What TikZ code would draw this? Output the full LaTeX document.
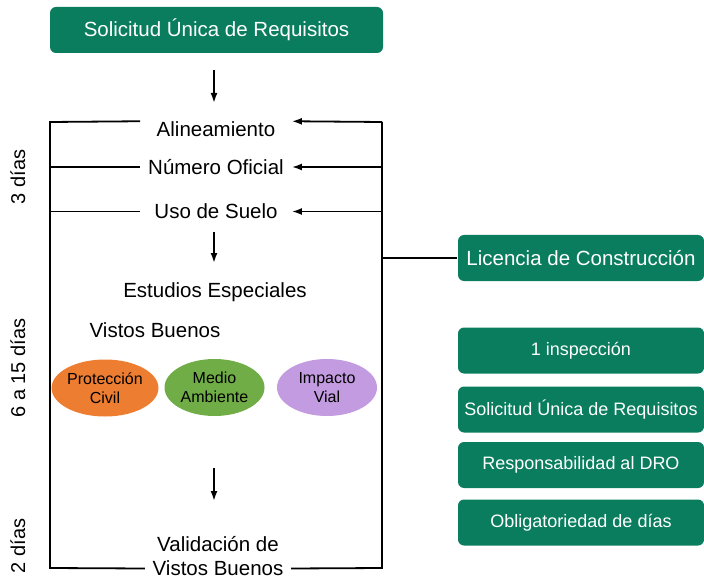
\documentclass[tikz,border=0pt]{standalone}
\usepackage{fontspec}
\setmainfont{Liberation Sans}
\usetikzlibrary{arrows.meta,shapes.geometric}
\definecolor{verde}{RGB}{10,125,94}
\definecolor{naranja}{RGB}{237,125,49}
\definecolor{verdeclaro}{RGB}{112,173,71}
\definecolor{lila}{RGB}{195,155,225}
\tikzset{
  caja/.style={fill=verde, rounded corners=6pt, text=white, inner sep=0pt,
    minimum width=246pt, minimum height=46pt, font=\fontsize{18}{21}\selectfont},
  texto/.style={inner sep=0pt, text height=14.7pt, text depth=0pt,
    font=\fontsize{20.5}{24}\selectfont},
  elipse/.style={ellipse, minimum width=100pt, minimum height=57pt, inner sep=0pt,
    align=center, font=\fontsize{16}{19.5}\selectfont},
  dias/.style={rotate=90, anchor=base, font=\fontsize{20}{24}\selectfont}
}
\begin{document}
\begin{tikzpicture}[>={Latex[length=10pt,width=7pt]}, x=1pt, y=-1pt, line width=1.8pt]
	\useasboundingbox (0,0) rectangle (704,580);
	%%% Solicitud
	\node[caja, minimum width=333pt, font=\fontsize{20.5}{24}\selectfont] (solic) at (216.5,30) {Solicitud Única de Requisitos};
	\coordinate (f1a) at (214,70);
	\coordinate (f1b) at (214,103);
	\draw[->] (f1a) -- (f1b);
	%%% Tramites 3 dias
	\node[texto, minimum width=150pt] (alin) at (216,129.5) {Alineamiento};
	\node[texto, minimum width=150pt] (numof) at (216,167) {Número Oficial};
	\node[texto, minimum width=150pt] (uso) at (216,211.5) {Uso de Suelo};
	\coordinate (f2a) at (214,232);
	\coordinate (f2b) at (214,263);
	\draw[->] (f2a) -- (f2b);
	%%% Estudios
	\node[texto] (estud) at (215,290.5) {Estudios Especiales};
	\node[texto] (vistos) at (155,330.5) {Vistos Buenos};
	\node[elipse, fill=naranja] (prot) at (105,388) {Protección\\Civil};
	\node[elipse, fill=verdeclaro] (medio) at (214.5,387.5) {Medio\\Ambiente};
	\node[elipse, fill=lila] (impacto) at (327,387.5) {Impacto\\Vial};
	\coordinate (f3a) at (214,468);
	\coordinate (f3b) at (214,501);
	\draw[->] (f3a) -- (f3b);
	%%% Validacion
	\node[texto] (vb1) at (218,544.5) {Validación de};
	\node[texto, inner xsep=7pt] (vb2) at (218,568.5) {Vistos Buenos};
	%%% Marco
	\coordinate (si) at (50,122);
	\coordinate (ii) at (50,568);
	\coordinate (sd) at (382,122);
	\coordinate (id) at (382,568);
	\draw (alin.north west) -- (si) -- (ii) -- (vb2.west);
	\draw (vb2.east) -- (id) -- (sd);
	\draw (si |- numof) -- (numof.west);
	\draw (si |- uso) -- (uso.west);
	\draw[->] (sd) -- (alin.north east);
	\draw[->] (sd |- numof) -- (numof.east);
	\draw[->] (sd |- uso) -- (uso.east);
	%%% Licencia
	\node[caja, font=\fontsize{20.5}{24}\selectfont] (lic) at (581,258) {Licencia de Construcción};
	\draw (sd |- lic) -- (lic.west);
	\node[caja] (insp) at (581,350.5) {1 inspección};
	\node[caja] (sur) at (581,409.5) {Solicitud Única de Requisitos};
	\node[caja] (dro) at (581,465) {Responsabilidad al DRO};
	\node[caja] (oblig) at (581,522.5) {Obligatoriedad de días};
	%%% Dias
	\node[dias] (d1) at (25,177) {3 días};
	\node[dias] (d2) at (25,368) {6 a 15 días};
	\node[dias] (d3) at (25,546) {2 días};
\end{tikzpicture}
\end{document}
